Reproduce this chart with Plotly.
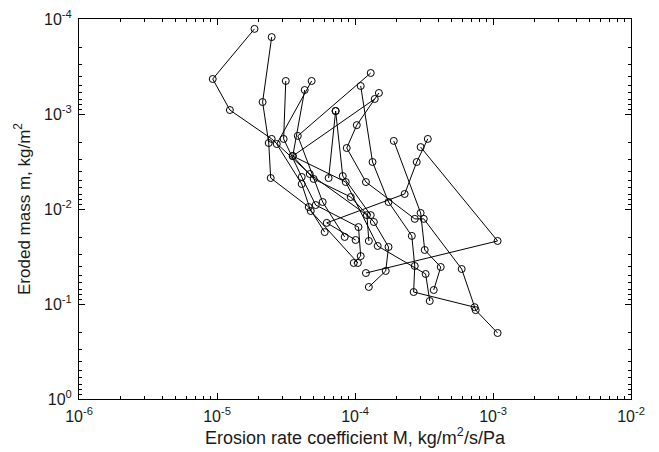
import plotly.graph_objects as go

# Erosion rate coefficient M (kg/m2/s/Pa) and eroded mass m (kg/m2), one pair per profile
M_s1 = [1.87e-5, 9.31e-6, 1.24e-5, 2.49e-5, 4.70e-5, 1.22e-4, 1.26e-4]
m_s1 = [1.27e-4, 4.28e-4, 9.08e-4, 1.83e-3, 4.28e-3, 1.16e-2, 2.17e-2]

M_s2 = [2.49e-5, 2.14e-5, 2.37e-5, 2.45e-5, 4.62e-5, 6.03e-5]
m_s2 = [1.55e-4, 7.48e-4, 2.02e-3, 4.72e-3, 9.53e-3, 1.75e-2]

M_s3 = [3.15e-5, 3.04e-5, 4.11e-5, 5.19e-5, 1.06e-4, 1.10e-4, 9.79e-5]
m_s3 = [4.49e-4, 1.83e-3, 4.60e-3, 9.08e-3, 1.55e-2, 3.13e-2, 3.70e-2]

M_s4 = [4.85e-5, 2.71e-5, 4.11e-5, 4.78e-5, 1.05e-4]
m_s4 = [4.49e-4, 2.07e-3, 5.46e-3, 1.05e-2, 3.70e-2]

M_s5 = [4.32e-5, 3.54e-5, 5.02e-5, 9.31e-5, 1.37e-4, 1.75e-4, 1.67e-4, 1.26e-4]
m_s5 = [5.59e-4, 2.77e-3, 4.83e-3, 7.48e-3, 1.37e-2, 2.51e-2, 4.49e-2, 6.62e-2]

M_s6 = [1.30e-4, 3.85e-5, 5.83e-5, 8.42e-5]
m_s6 = [3.70e-4, 1.70e-3, 8.44e-3, 1.97e-2]

M_s7 = [1.10e-4, 1.34e-4, 1.75e-4, 2.58e-4, 2.71e-4, 2.66e-4, 7.36e-4]
m_s7 = [5.07e-4, 3.20e-3, 8.44e-3, 1.92e-2, 3.98e-2, 7.48e-2, 0.108]

M_s8 = [1.49e-4, 1.03e-4, 8.71e-5, 1.20e-4, 2.71e-4, 3.15e-4, 5.93e-4, 7.49e-4, 1.08e-3]
m_s8 = [6.01e-4, 1.31e-3, 2.28e-3, 5.20e-3, 1.27e-2, 1.27e-2, 4.28e-2, 0.116, 0.202]

M_s9 = [1.39e-4, 3.54e-5, 8.57e-5, 1.46e-4, 3.25e-4, 3.48e-4]
m_s9 = [6.95e-4, 2.77e-3, 5.20e-3, 2.45e-2, 4.83e-2, 9.30e-2]

M_s10 = [7.24e-5, 6.44e-5]
m_s10 = [9.30e-4, 4.72e-3]

M_s11 = [7.24e-5, 8.15e-5, 1.30e-4]
m_s11 = [9.30e-4, 4.50e-3, 1.16e-2]

M_s12 = [1.91e-4, 2.99e-4, 3.20e-4, 4.18e-4, 3.72e-4]
m_s12 = [1.92e-3, 1.10e-2, 2.70e-2, 4.08e-2, 7.12e-2]

M_s13 = [2.99e-4, 1.08e-3, 1.20e-4]
m_s13 = [2.23e-3, 2.17e-2, 4.72e-2]

M_s14 = [3.37e-4, 2.80e-4, 2.29e-4, 6.24e-5, 1.01e-4]
m_s14 = [1.83e-3, 3.20e-3, 6.95e-3, 1.40e-2, 2.12e-2]

x_ticks = [1e-6, 1e-5, 1e-4, 1e-3, 1e-2]
x_tick_labels = ["10<sup>-6</sup>", "10<sup>-5</sup>", "10<sup>-4</sup>", "10<sup>-3</sup>", "10<sup>-2</sup>"]
y_ticks = [1e-4, 1e-3, 1e-2, 1e-1, 1e0]
y_tick_labels = ["10<sup>-4</sup>", "10<sup>-3</sup>", "10<sup>-2</sup>", "10<sup>-1</sup>", "10<sup>0</sup>"]

series = [
    (M_s1, m_s1), (M_s2, m_s2), (M_s3, m_s3), (M_s4, m_s4), (M_s5, m_s5),
    (M_s6, m_s6), (M_s7, m_s7), (M_s8, m_s8), (M_s9, m_s9), (M_s10, m_s10),
    (M_s11, m_s11), (M_s12, m_s12), (M_s13, m_s13), (M_s14, m_s14),
]

fig = go.Figure()
for xs, ys in series:
    fig.add_trace(go.Scatter(
        x=xs, y=ys, mode="lines+markers",
        line=dict(color="black", width=1),
        marker=dict(symbol="circle-open", size=7, color="black", line=dict(width=1)),
        showlegend=False, hoverinfo="skip",
    ))

def minor_vals(lo, hi):
    vals = []
    for e in range(lo, hi):
        for k in range(2, 10):
            vals.append(k * 10.0 ** e)
    return vals

txt = "#1a1a1a"
font = dict(family="Liberation Sans, Arial, sans-serif", size=16, color=txt)

fig.update_layout(
    width=659, height=452,
    margin=dict(l=79, r=28, t=19, b=53, autoexpand=False),
    paper_bgcolor="white", plot_bgcolor="white",
    font=font,
    xaxis=dict(
        type="log", range=[-6, -2], automargin=False,
        tickmode="array", tickvals=x_ticks, ticktext=x_tick_labels,
        ticks="inside", ticklen=6, tickcolor="black", tickwidth=1,
        ticklabelstandoff=3,
        minor=dict(tickmode="array", tickvals=minor_vals(-6, -2), ticks="inside",
                   ticklen=3, tickcolor="black", showgrid=False),
        showline=True, linecolor="black", linewidth=1, mirror="ticks",
        showgrid=False, zeroline=False,
        tickfont=dict(size=16, color=txt),
        title=dict(text="Erosion rate coefficient M, kg/m<sup>2</sup>/s/Pa",
                   font=dict(size=18, color=txt), standoff=6),
    ),
    yaxis=dict(
        type="log", range=[0, -4], automargin=False,
        tickmode="array", tickvals=y_ticks, ticktext=y_tick_labels,
        ticks="inside", ticklen=6, tickcolor="black", tickwidth=1,
        ticklabelstandoff=3,
        minor=dict(tickmode="array", tickvals=minor_vals(-4, 0), ticks="inside",
                   ticklen=3, tickcolor="black", showgrid=False),
        showline=True, linecolor="black", linewidth=1, mirror="ticks",
        showgrid=False, zeroline=False,
        tickfont=dict(size=16, color=txt),
        title=dict(text="Eroded mass m, kg/m<sup>2</sup>",
                   font=dict(size=17, color=txt), standoff=9),
    ),
)

fig.write_html("out.html")
